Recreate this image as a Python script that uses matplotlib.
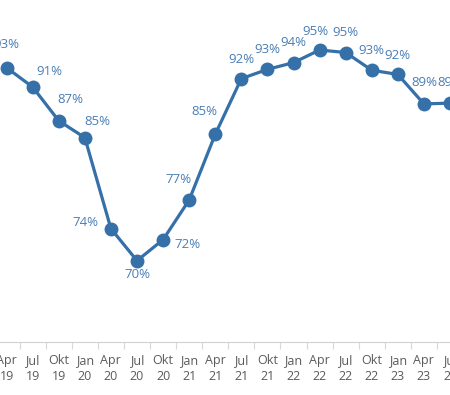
import matplotlib
matplotlib.use("Agg")
import matplotlib.pyplot as plt
import numpy as np

plt.rcParams['font.family'] = ['Open Sans', 'DejaVu Sans']

months = ["Apr", "Jul", "Okt", "Jan", "Apr", "Jul", "Okt", "Jan", "Apr",
          "Jul", "Okt", "Jan", "Apr", "Jul", "Okt", "Jan", "Apr", "Jul"]
years = ["19", "19", "19", "20", "20", "20", "20", "21", "21",
         "21", "21", "22", "22", "22", "22", "23", "23", "23"]
values = [92.9, 90.6, 86.6, 84.6, 73.8, 70.0, 72.5, 77.2, 85.0,
          91.6, 92.7, 93.5, 95.0, 94.7, 92.6, 92.1, 88.6, 88.7]

# label offsets in pixels (dx, dy with dy positive = up)
offsets = [(0, 23), (17, 16), (12, 21), (13, 16), (-25, 6), (0, -14), (24, -5),
           (-11, 21), (-11, 23), (0, 19), (0, 20), (0, 20), (-4, 18), (0, 20),
           (0, 20), (0, 19), (0, 21), (0, 21)]

line_color = "#3570a8"
label_color = "#4a7eb4"

fig = plt.figure(figsize=(4.5, 3.95), dpi=100)
ax = fig.add_axes([0, (395 - 341.7) / 395, 1, 341.7 / 395])

x = np.arange(len(values))
ax.plot(x, values, color=line_color, lw=2.3, marker='o', markersize=9,
        clip_on=False, solid_capstyle='round', zorder=3)

for xi, v, (dx, dy) in zip(x, values, offsets):
    ax.annotate(f"{round(v):d}%", (xi, v), xytext=(dx * 0.72, dy * 0.72),
                textcoords='offset points', ha='center', va='center',
                fontsize=9.5, color=label_color, annotation_clip=False)

px = 26.5
ax.set_xlim(-6.7 / px, (450 - 6.7) / px)
ax.set_ylim(70 - (341.7 - 260.7) / 8.43, 95 + 50 / 8.43)

ax.set_xticks(x)
ax.set_xticklabels([f"{m}\n{y}" for m, y in zip(months, years)],
                   fontsize=9, color="#5a5a5a", linespacing=1.3)
ax.tick_params(axis='x', which='major', length=0, pad=9)
ax.set_xticks(x[:-1] + 0.5, minor=True)
ax.tick_params(axis='x', which='minor', length=5, color="#d8d8d8", width=0.8)
ax.set_yticks([])

for s in ['top', 'right', 'left']:
    ax.spines[s].set_visible(False)
ax.spines['bottom'].set_color("#d0d0d0")
ax.spines['bottom'].set_linewidth(0.8)

fig.savefig("out.png", dpi=100)
